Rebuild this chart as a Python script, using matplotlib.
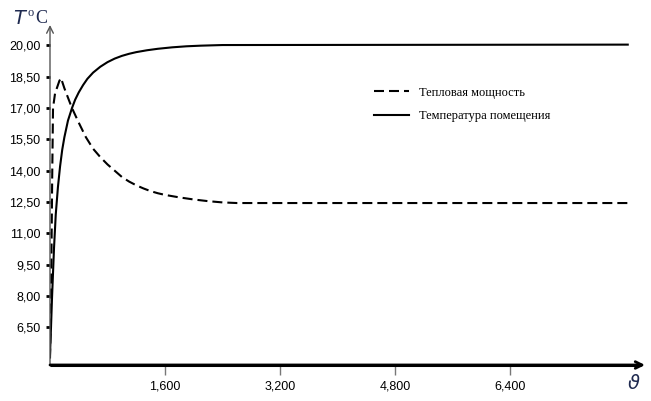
import numpy as np
import matplotlib.pyplot as plt

# time axis values and the two responses
theta_power = [0.0, 0.015, 0.03, 0.042, 0.07, 0.10, 0.13, 0.153, 0.2, 0.25,
               0.306, 0.4, 0.5, 0.6, 0.7, 0.8, 0.9, 1.0, 1.1, 1.2,
               1.3, 1.4, 1.5, 1.6, 1.8, 2.0, 2.2, 2.4, 2.6, 8.04]
heat_power = [5.0, 8.0, 13.5, 17.0, 17.7, 18.0, 18.3, 18.44, 17.95, 17.5,
              17.0, 16.3, 15.6, 15.05, 14.65, 14.3, 14.0, 13.7, 13.48, 13.3,
              13.15, 13.02, 12.92, 12.84, 12.72, 12.62, 12.54, 12.48, 12.45, 12.45]

theta_temp = [0.0, 0.014, 0.028, 0.056, 0.08, 0.11, 0.14, 0.17, 0.2, 0.25,
              0.306, 0.35, 0.4, 0.46, 0.52, 0.6, 0.7, 0.8, 0.9, 1.0,
              1.1, 1.2, 1.35, 1.5, 1.7, 1.9, 2.1, 2.4, 8.04]
room_temp = [5.2, 6.5, 7.9, 10.3, 11.9, 13.2, 14.2, 15.0, 15.6, 16.4,
             17.0, 17.4, 17.75, 18.1, 18.4, 18.7, 18.98, 19.2, 19.37, 19.5,
             19.6, 19.68, 19.77, 19.84, 19.91, 19.96, 19.99, 20.02, 20.04]

y_ticks = [6.5, 8.0, 9.5, 11.0, 12.5, 14.0, 15.5, 17.0, 18.5, 20.0]
x_ticks = [1.6, 3.2, 4.8, 6.4]
y_tick_labels = ['6,50', '8,00', '9,50', '11,00', '12,50', '14,00', '15,50', '17,00', '18,50', '20,00']
x_tick_labels = ['1,600', '3,200', '4,800', '6,400']

label_power = 'Тепловая мощность'
label_temp = 'Температура помещения'

X_MIN, X_MAX = 0.0, 8.28
Y_MIN, Y_MAX = 4.69, 20.98

tick_font = ['Liberation Sans', 'DejaVu Sans']
caption_color = '#1f2a50'

fig = plt.figure(figsize=(6.51, 4.01), dpi=100)
ax = fig.add_axes([50 / 651, 36 / 401, 595 / 651, 340 / 401])

ax.plot(theta_power, heat_power, color='black', lw=1.5, dashes=(4.8, 2.4),
        label=label_power)
ax.plot(theta_temp, room_temp, color='black', lw=1.5, label=label_temp)

ax.set_xlim(X_MIN, X_MAX)
ax.set_ylim(Y_MIN, Y_MAX)

for side in ['top', 'right', 'left', 'bottom']:
    ax.spines[side].set_visible(False)

# axes drawn as arrows
ax.annotate('', xy=(X_MIN, Y_MAX), xytext=(X_MIN, Y_MIN),
            arrowprops=dict(arrowstyle='->', color='#555555', lw=1.0,
                            shrinkA=0, shrinkB=0, mutation_scale=12))
ax.annotate('', xy=(X_MAX, Y_MIN), xytext=(X_MIN, Y_MIN),
            arrowprops=dict(arrowstyle='->', color='black', lw=2.0,
                            shrinkA=0, shrinkB=0, mutation_scale=12))
ax.plot([X_MIN, X_MAX - 0.05], [Y_MIN, Y_MIN], color='black', lw=2.2,
        solid_capstyle='butt', clip_on=False)

ax.set_yticks(y_ticks)
ax.set_yticklabels(y_tick_labels, family=tick_font, fontsize=9)
ax.set_xticks(x_ticks)
ax.set_xticklabels(x_tick_labels, family=tick_font, fontsize=9)
ax.tick_params(axis='y', direction='out', length=3, width=2, color='black', pad=4)
ax.tick_params(axis='x', direction='out', length=7, width=1, color='#777777', pad=4)

# axis captions
ax.text(-0.049, 1.018, r'$T$', transform=ax.transAxes, fontsize=14,
        family='Liberation Serif', color=caption_color, va='center', ha='center')
ax.text(-0.032, 1.036, 'o', transform=ax.transAxes, fontsize=9,
        family='Liberation Serif', color=caption_color, va='center', ha='center')
ax.text(-0.015, 1.018, 'C', transform=ax.transAxes, fontsize=13,
        family='Liberation Serif', color=caption_color, va='center', ha='center')
ax.text(0.982, -0.055, r'$\vartheta$', transform=ax.transAxes, fontsize=14,
        color=caption_color, va='center', ha='center')

ax.legend(loc='upper left', bbox_to_anchor=(0.525, 0.852), frameon=False,
          handlelength=2.8, handletextpad=0.8, labelspacing=0.95,
          prop={'family': 'Liberation Serif', 'size': 9})

fig.savefig('out.png', dpi=100)
